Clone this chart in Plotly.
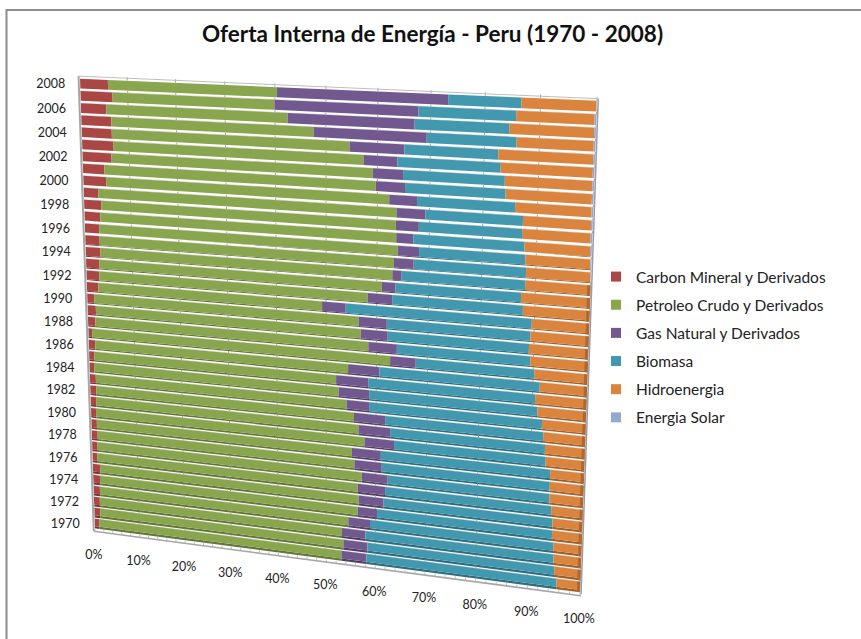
import numpy as np
import plotly.graph_objects as go

years = list(range(2008, 1969, -1))
carbon = [5.9,6.8,5.4,6.4,6.4,6.7,6.2,4.6,4.9,3.1,3.7,3.4,3.1,3.1,3.2,2.9,2.8,2.5,1.5,1.8,
          1.6,0.8,1.4,1.1,1.0,1.3,1.3,1.2,1.1,1.2,1.3,1.2,1.1,1.6,1.5,1.4,1.3,1.3,1.0]
petroleo = [34.5,33.1,37.1,41.2,48.2,50.6,52.9,55.1,57.4,60.6,59.9,60.3,60.9,60.2,59.8,58.1,55.4,46.7,55.0,55.1,
            56.8,61.9,53.0,50.9,51.5,52.8,54.3,55.3,56.6,54.0,54.4,56.0,55.3,55.0,54.9,53.1,51.9,52.2,52.1]
gas = [32.8,27.8,24.5,21.7,10.5,6.5,5.8,5.6,5.3,5.5,4.4,3.3,4.1,3.8,1.8,2.6,4.8,4.7,5.5,5.3,
       5.6,5.0,6.2,6.4,6.1,4.5,6.2,6.3,5.9,5.8,5.5,5.2,5.5,5.0,3.9,4.4,4.8,4.9,5.1]
biomasa = [13.4,18.0,17.5,16.6,17.5,19.3,19.0,18.8,18.3,18.2,19.3,20.8,19.9,21.1,23.3,23.8,24.8,35.6,27.3,26.9,
           25.4,22.5,30.7,32.1,32.4,33.3,30.4,29.8,29.2,32.7,32.5,31.3,32.2,32.8,34.1,35.8,36.8,36.6,37.3]
hidro = [13.3,14.0,15.2,13.8,17.1,16.6,15.8,15.6,13.8,12.3,12.4,11.9,11.8,11.7,11.9,12.6,12.2,10.5,10.7,10.9,
         10.6,9.8,8.7,9.5,9.0,8.1,7.8,7.4,7.2,6.3,6.3,6.3,5.9,5.6,5.6,5.3,5.2,5.0,4.5]
solar = [0.1,0.3,0.3,0.3,0.3,0.3,0.3,0.3,0.3,0.3,0.3,0.3,0.2,0.1,0,0,0,0,0,0,
         0,0,0,0,0,0,0,0,0,0,0,0,0,0,0,0,0,0,0]

series = [
    ("Carbon Mineral y Derivados", carbon, "#AA4644"),
    ("Petroleo Crudo y Derivados", petroleo, "#89A54E"),
    ("Gas Natural y Derivados", gas, "#71588F"),
    ("Biomasa", biomasa, "#4198AF"),
    ("Hidroenergia", hidro, "#DB843D"),
    ("Energia Solar", solar, "#93A9CF"),
]
pct_ticks = list(range(0, 101, 10))
FONT = "Lato"

# Perspective of the tilted chart plane: (share, row) -> page position
src = [(0, 0), (1, 0), (1, 1), (0, 1)]
dst = [(80, 78), (597, 100), (580, 593), (95, 529)]
A, b = [], []
for (u, v), (X, Y) in zip(src, dst):
    A.append([u, v, 1, 0, 0, 0, -u * X, -v * X]); b.append(X)
    A.append([0, 0, 0, u, v, 1, -u * Y, -v * Y]); b.append(Y)
h = np.linalg.solve(np.array(A, float), np.array(b, float))
NR = len(years)

def proj(p, t):
    u, v = p / 100.0, t / NR
    w = h[6] * u + h[7] * v + 1
    return (h[0] * u + h[1] * v + h[2]) / w, (h[3] * u + h[4] * v + h[5]) / w

def quad(p0, p1, t0, t1):
    pts = [proj(p0, t0), proj(p1, t0), proj(p1, t1), proj(p0, t1), proj(p0, t0)]
    return [q[0] for q in pts] + [None], [q[1] for q in pts] + [None]

def shade(c, f=0.72):
    r, g, bl = int(c[1:3], 16), int(c[3:5], 16), int(c[5:7], 16)
    return "#%02x%02x%02x" % (int(r * f), int(g * f), int(bl * f))

def band(r):
    k = r / (NR - 1)
    top = r + 0.06
    face = 0.80 - 0.12 * k
    dark = 0.20 * k
    return top, top + face, top + face + dark

fig = go.Figure()

def add_poly(xs, ys, color):
    fig.add_trace(go.Scatter(x=xs, y=ys, mode="lines", fill="toself", fillcolor=color,
                             line=dict(width=0, color=color), hoverinfo="skip", showlegend=False))

def add_line(xs, ys, color, width):
    fig.add_trace(go.Scatter(x=xs, y=ys, mode="lines", line=dict(color=color, width=width),
                             hoverinfo="skip", showlegend=False))

# Gridlines in the gaps between bars
gx, gy = [], []
for r in range(1, NR):
    a, c = proj(0, r + 0.05), proj(100, r + 0.05)
    gx += [a[0], c[0], None]; gy += [a[1], c[1], None]
add_line(gx, gy, "#c4c4c4", 0.7)

# Bars: front face and darker underside, stacked from the series values
cum = np.zeros(NR)
for name, vals, color in series:
    fx, fy, dx, dy = [], [], [], []
    for r, v in enumerate(vals):
        if v <= 0:
            continue
        t0, t1, t2 = band(r)
        x, y = quad(cum[r], cum[r] + v, t0, t1)
        fx += x; fy += y
        x, y = quad(cum[r], cum[r] + v, t1, t2)
        dx += x; dy += y
    add_poly(dx, dy, shade(color))
    add_poly(fx, fy, color)
    cum += np.array(vals)

# Right-hand side face of the lower bars
sx, sy = [], []
for r in range(14, NR):
    t0, t1, t2 = band(r)
    x, y = quad(99.4, 100, t0, t2)
    sx += x; sy += y
add_poly(sx, sy, shade("#DB843D", 0.8))

# Ticks at each 10% across the gaps
tx, ty = [], []
for p in pct_ticks[1:]:
    for r in range(1, NR):
        a, c = proj(p, r - 0.12), proj(p, r + 0.05)
        tx += [a[0], c[0], None]; ty += [a[1], c[1], None]
    a, c = proj(p, -0.22), proj(p, 0.04)
    tx += [a[0], c[0], None]; ty += [a[1], c[1], None]
add_line(tx, ty, "#a6a6a6", 1)

# Walls and floor edges
a, c = proj(-0.3, -0.15), proj(-0.3, NR + 0.2)
add_line([a[0], c[0]], [a[1], c[1]], "#a6a6a6", 2)
a, c = proj(100.2, -0.1), proj(100.2, NR + 0.1)
add_line([a[0], c[0]], [a[1], c[1]], "#9a9aa8", 1.5)
a, c = proj(-0.3, -0.15), proj(100.2, -0.1)
add_line([a[0], c[0]], [a[1], c[1]], "#bfbfbf", 1)
a, c = proj(-0.3, NR + 0.22), proj(100.2, NR + 0.22)
add_line([a[0], c[0]], [a[1], c[1]], "#a6a6a6", 1.6)
mx, my = [], []
for p in range(0, 101, 2):
    a, c = proj(p, NR - 0.02), proj(p, NR + 0.22)
    mx += [a[0], c[0], None]; my += [a[1], c[1], None]
add_line(mx, my, "#b0b0b0", 0.8)

# Tick labels
lab = [(proj(0, r + 0.5)[0] - 15, proj(0, r + 0.5)[1] + 1, str(y))
       for r, y in enumerate(years) if y % 2 == 0]
fig.add_trace(go.Scatter(x=[q[0] for q in lab], y=[q[1] for q in lab], text=[q[2] for q in lab],
                         mode="text", textposition="middle left", cliponaxis=False,
                         textfont=dict(family=FONT, size=12.5, color="#222222"),
                         hoverinfo="skip", showlegend=False))
pl = [(proj(p, NR)[0] - 1, proj(p, NR)[1] + 26.5, f"{p}%") for p in pct_ticks]
fig.add_trace(go.Scatter(x=[q[0] for q in pl], y=[q[1] for q in pl], text=[q[2] for q in pl],
                         mode="text", textposition="middle center", cliponaxis=False,
                         textfont=dict(family=FONT, size=12.5, color="#222222"),
                         hoverinfo="skip", showlegend=False))

# Legend entries
for name, vals, color in series:
    fig.add_trace(go.Scatter(x=[None], y=[None], mode="markers", name=name, legendgroup=name,
                             marker=dict(symbol="square", size=10, color=color)))

fig.update_layout(
    width=861, height=639, margin=dict(l=0, r=0, t=0, b=0),
    paper_bgcolor="white", plot_bgcolor="white",
    xaxis=dict(range=[0, 861], visible=False, fixedrange=True),
    yaxis=dict(range=[639, 0], visible=False, fixedrange=True),
    font=dict(family=FONT, color="#222222"),
    showlegend=True,
    legend=dict(x=596 / 861, y=1 - 260 / 639, xanchor="left", yanchor="top",
                font=dict(family=FONT, size=15.5, color="#222222"),
                tracegroupgap=5, bgcolor="rgba(0,0,0,0)", itemclick=False, itemdoubleclick=False),
    annotations=[dict(text="<b>Oferta Interna de Energía - Peru (1970 - 2008)</b>", x=432, y=33,
                      xref="x", yref="y", showarrow=False,
                      font=dict(family=FONT, size=22.5, color="#111111"))],
    shapes=[dict(type="path", path="M 6.5 639 L 6.5 10 L 861 10", xref="x", yref="y",
                 line=dict(color="#8c8c8c", width=2), layer="below")],
)
fig.write_html("out.html", config={"displayModeBar": False},
               post_script="document.body.style.margin='0';document.documentElement.style.overflow='hidden';")
